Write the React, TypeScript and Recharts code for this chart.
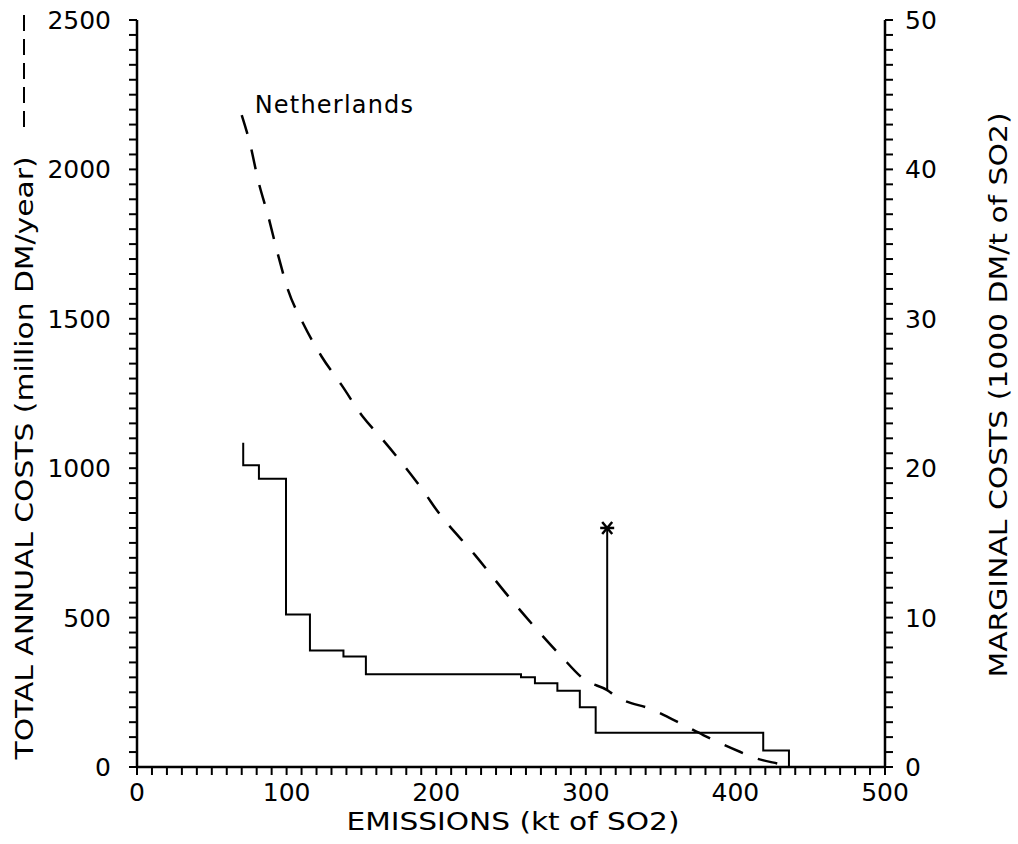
import React from 'react';
import {
  LineChart,
  Line,
  Scatter,
  XAxis,
  YAxis,
  Label
} from 'recharts';

// total annual costs (million DM/year), dashed curve, left axis
const totalX = [70, 75.5, 81, 87.8, 94, 101, 111, 123.5, 136.8, 151, 163.5, 192.5, 200.3, 226, 249.3, 264.7, 282.8, 299.5, 314, 320.7, 345, 367.4, 378.5, 403, 414, 432, 437];
const totalCost = [2182, 2087, 1963, 1842, 1719, 1596, 1485, 1373, 1278, 1172, 1100, 916, 860, 709, 565, 475, 375, 291, 258, 235, 191, 135, 107, 51, 29, 7, 0];

// marginal costs (1000 DM/t of SO2), step line, right axis
const stepX = [71, 71, 81.5, 99.6, 115.6, 138, 153, 256.7, 266, 281, 296, 306.6, 418.6, 435.8];
const marginalCost = [21.7, 20.2, 19.3, 10.2, 7.8, 7.4, 6.2, 6.0, 5.6, 5.1, 4.0, 2.3, 1.1, 0];

// marked point: emission level with its cost bar
const markX = [314.3, 314.3];
const markCost = [258, 800];

const xMajor = [0, 100, 200, 300, 400, 500];
const leftMajor = [0, 500, 1000, 1500, 2000, 2500];
const rightMajor = [0, 10, 20, 30, 40, 50];

const xMinor = Array.from({ length: 51 }, (_, i) => i * 10);
const leftMinor = Array.from({ length: 51 }, (_, i) => i * 50);
const rightMinor = Array.from({ length: 51 }, (_, i) => i);

const totalData = totalX.map((x, i) => ({ x, y: totalCost[i] }));
const stepData = stepX.map((x, i) => ({ x, y: marginalCost[i] }));
const markData = markX.map((x, i) => ({ x, y: markCost[i] }));
const starData = [{ x: markX[1], y: markCost[1] }];

const FONT = '"DejaVu Sans", Arial, sans-serif';

const XTick = ({ x, y, payload }: any) =>
  xMajor.includes(payload.value) ? (
    <text x={x} y={y} dy="0.72em" textAnchor="middle" fontFamily={FONT} fontSize={25} fill="#000">
      {payload.value}
    </text>
  ) : <g />;

const LeftTick = ({ x, y, payload }: any) =>
  leftMajor.includes(payload.value) ? (
    <text x={x} y={y} dy="0.36em" textAnchor="end" fontFamily={FONT} fontSize={25} fill="#000">
      {payload.value}
    </text>
  ) : <g />;

const RightTick = ({ x, y, payload }: any) =>
  rightMajor.includes(payload.value) ? (
    <text x={x} y={y} dy="0.36em" textAnchor="start" fontFamily={FONT} fontSize={25} fill="#000">
      {payload.value}
    </text>
  ) : <g />;

const LeftTitle = () => (
  <g>
    <text
      x={33}
      y={458}
      transform="rotate(-90 33 458)"
      textAnchor="middle"
      fontFamily={FONT}
      fontSize={24}
      textLength={603}
      lengthAdjust="spacingAndGlyphs"
      fill="#000"
    >
      TOTAL ANNUAL COSTS (million DM/year)
    </text>
    <line x1={24} y1={15} x2={24} y2={128} stroke="#000" strokeWidth={2} strokeDasharray="16 8" />
  </g>
);

const RightTitle = () => (
  <text
    x={1007}
    y={395}
    transform="rotate(-90 1007 395)"
    textAnchor="middle"
    fontFamily={FONT}
    fontSize={24}
    textLength={565}
    lengthAdjust="spacingAndGlyphs"
    fill="#000"
  >
    MARGINAL COSTS (1000 DM/t of SO2)
  </text>
);

const BottomTitle = () => (
  <text
    x={513}
    y={830}
    textAnchor="middle"
    fontFamily={FONT}
    fontSize={24}
    textLength={333}
    lengthAdjust="spacingAndGlyphs"
    fill="#000"
  >
    EMISSIONS (kt of SO2)
  </text>
);

// "Netherlands" tag next to the start of the dashed curve
const CurveTag = ({ x, y, index }: any) =>
  index === 0 ? (
    <text x={x + 13} y={y - 2} fontFamily={FONT} fontSize={24} letterSpacing={1.2} fill="#000">
      Netherlands
    </text>
  ) : null;

const Asterisk = ({ cx, cy }: any) => (
  <g stroke="#000" strokeWidth={2.5}>
    <line x1={cx - 7} y1={cy} x2={cx + 7} y2={cy} />
    <line x1={cx - 5} y1={cy - 6} x2={cx + 5} y2={cy + 6} />
    <line x1={cx + 5} y1={cy - 6} x2={cx - 5} y2={cy + 6} />
  </g>
);

const App = () => (
  <div style={{ position: 'absolute', left: 0, top: 0, background: '#fff' }}>
    <LineChart width={1018} height={844} margin={{ top: 20, right: 53, bottom: 27, left: 57 }}>
      <XAxis
        type="number"
        dataKey="x"
        domain={[0, 500]}
        ticks={xMinor}
        interval={0}
        height={50}
        tickSize={8}
        tickMargin={8}
        tick={XTick}
        axisLine={{ stroke: '#000', strokeWidth: 2.5 }}
        tickLine={{ stroke: '#000', strokeWidth: 2 }}
        allowDataOverflow
      >
        <Label content={BottomTitle} />
      </XAxis>
      <YAxis
        yAxisId="left"
        type="number"
        dataKey="y"
        domain={[0, 2500]}
        ticks={leftMinor}
        interval={0}
        width={80}
        tickSize={8}
        tickMargin={18}
        tick={LeftTick}
        axisLine={{ stroke: '#000', strokeWidth: 2.5 }}
        tickLine={{ stroke: '#000', strokeWidth: 2 }}
      >
        <Label content={LeftTitle} />
      </YAxis>
      <YAxis
        yAxisId="right"
        orientation="right"
        type="number"
        dataKey="y"
        domain={[0, 50]}
        ticks={rightMinor}
        interval={0}
        width={80}
        tickSize={8}
        tickMargin={12}
        tick={RightTick}
        axisLine={{ stroke: '#000', strokeWidth: 2.5 }}
        tickLine={{ stroke: '#000', strokeWidth: 2 }}
      >
        <Label content={RightTitle} />
      </YAxis>
      <Line
        yAxisId="left"
        data={totalData}
        dataKey="y"
        type="monotone"
        stroke="#000"
        strokeWidth={2.5}
        strokeDasharray="20 16"
        dot={false}
        label={CurveTag}
        isAnimationActive={false}
      />
      <Line
        yAxisId="right"
        data={stepData}
        dataKey="y"
        type="stepAfter"
        stroke="#000"
        strokeWidth={2}
        dot={false}
        isAnimationActive={false}
      />
      <Line
        yAxisId="left"
        data={markData}
        dataKey="y"
        type="linear"
        stroke="#000"
        strokeWidth={2}
        dot={false}
        isAnimationActive={false}
      />
      <Scatter
        yAxisId="left"
        data={starData}
        dataKey="y"
        shape={Asterisk}
        isAnimationActive={false}
      />
    </LineChart>
  </div>
);

export default App;
